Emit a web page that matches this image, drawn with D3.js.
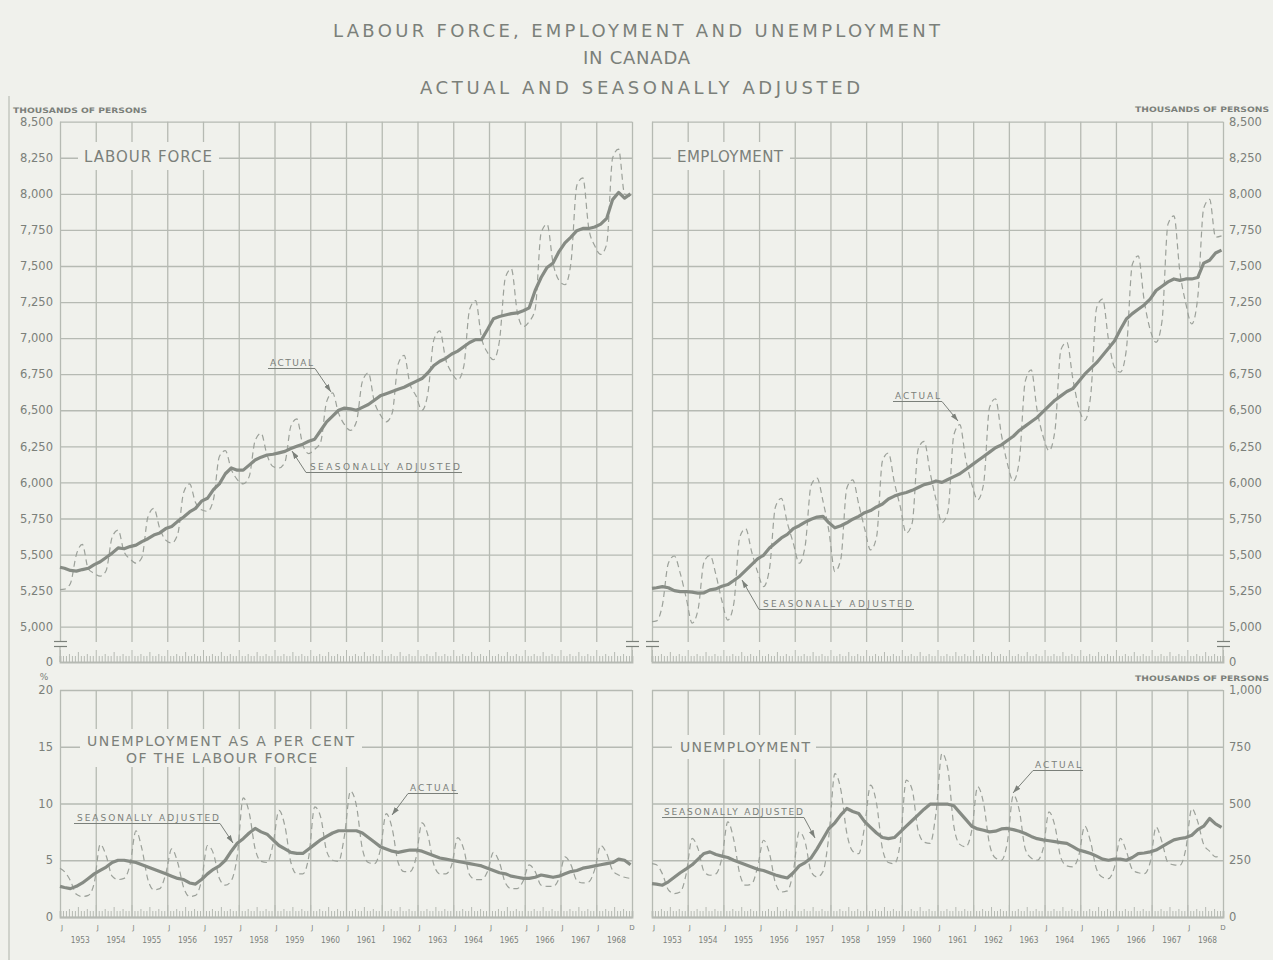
<!DOCTYPE html>
<html><head><meta charset="utf-8">
<script src="https://cdn.jsdelivr.net/npm/d3@7"></script>
<style>
body{margin:0;background:#f0f1ec;}
svg{display:block;}
text{font-family:"DejaVu Sans",sans-serif;fill:#7b807a;}
</style></head><body>
<svg id="c" width="1273" height="960"></svg>
<script>
// ---------------- DATA ----------------
// Sample points: Jan 1953, then Feb, Apr, Jun, Aug, Oct, Dec of each year 1953-1968
const yearLabels = ["1953","1954","1955","1956","1957","1958","1959","1960","1961","1962","1963","1964","1965","1966","1967","1968"];
const thousandTicks = [5000,5250,5500,5750,6000,6250,6500,6750,7000,7250,7500,7750,8000,8250,8500];
const rateTicks = [0,5,10,15,20];
const unempTicks = [0,250,500,750,1000];

const lfActual = [5257,
 5260,5300,5500,5570,5400,5370,
 5350,5390,5620,5670,5520,5470,
 5440,5480,5760,5820,5680,5600,
 5580,5640,5930,5990,5860,5810,
 5800,5880,6180,6220,6090,6020,
 5990,6040,6290,6340,6190,6110,
 6100,6140,6390,6440,6260,6200,
 6230,6280,6560,6620,6480,6400,
 6360,6420,6700,6760,6560,6470,
 6420,6480,6820,6880,6680,6600,
 6500,6620,6990,7050,6850,6760,
 6710,6800,7200,7260,7000,6900,
 6850,6980,7420,7480,7180,7080,
 7115,7200,7730,7790,7520,7400,
 7370,7520,8060,8110,7760,7640,
 7580,7650,8250,8310,8000,7980];
const lfSA = [5412,
 5405,5390,5385,5396,5405,5430,
 5450,5480,5510,5546,5540,5555,
 5565,5590,5610,5635,5650,5680,
 5695,5730,5760,5795,5820,5870,
 5890,5950,5990,6060,6100,6085,
 6085,6120,6155,6175,6190,6195,
 6205,6215,6235,6250,6265,6285,
 6300,6360,6420,6460,6500,6515,
 6510,6500,6520,6540,6570,6600,
 6615,6630,6645,6660,6680,6700,
 6720,6760,6810,6840,6860,6890,
 6910,6940,6970,6990,6990,7060,
 7135,7150,7160,7170,7175,7190,
 7210,7330,7420,7490,7520,7600,
 7660,7700,7745,7760,7760,7770,
 7790,7830,7960,8010,7970,8000];
const empActual = [5035,
 5040,5150,5440,5490,5370,5200,
 5025,5120,5450,5495,5360,5180,
 5046,5160,5620,5680,5520,5380,
 5278,5400,5830,5890,5720,5580,
 5440,5560,5980,6030,5870,5660,
 5382,5470,5960,6018,5850,5680,
 5532,5620,6150,6204,6000,5830,
 5648,5720,6230,6285,6070,5880,
 5720,5800,6330,6400,6160,5990,
 5880,5990,6520,6580,6330,6130,
 6010,6150,6700,6780,6500,6320,
 6220,6360,6920,6971,6720,6520,
 6430,6600,7210,7271,6990,6800,
 6764,6920,7510,7570,7260,7060,
 6971,7120,7790,7847,7460,7240,
 7098,7280,7900,7962,7700,7709];
const empSA = [5266,
 5270,5278,5270,5250,5243,5243,
 5240,5232,5235,5255,5262,5280,
 5292,5320,5350,5390,5430,5470,
 5495,5545,5580,5615,5640,5680,
 5700,5725,5745,5760,5764,5720,
 5685,5700,5720,5745,5765,5790,
 5805,5830,5850,5885,5905,5920,
 5930,5945,5965,5985,5995,6010,
 6000,6020,6040,6060,6090,6120,
 6150,6180,6210,6240,6260,6290,
 6320,6360,6390,6420,6450,6490,
 6530,6570,6600,6630,6650,6700,
 6750,6790,6830,6880,6930,6980,
 7060,7133,7170,7200,7230,7270,
 7330,7360,7390,7410,7400,7410,
 7410,7420,7520,7540,7590,7610];
const rateActual = [4.3,
 4.0,3.2,2.0,1.8,1.9,3.0,
 6.4,5.4,3.6,3.3,3.4,4.6,
 7.6,6.0,3.3,2.4,2.5,3.8,
 6.0,4.8,2.6,1.8,1.9,3.2,
 6.3,5.6,3.4,2.8,3.2,5.4,
 10.5,9.2,6.0,4.9,4.8,6.4,
 9.4,8.0,4.8,3.8,3.8,5.3,
 9.7,8.8,5.8,5.0,4.9,7.2,
 11.1,9.8,6.0,4.8,4.7,5.9,
 9.1,7.8,4.8,4.0,4.0,5.2,
 8.3,7.2,4.6,3.8,3.8,4.6,
 7.0,6.0,3.7,3.3,3.3,4.0,
 5.7,4.8,3.0,2.5,2.5,3.2,
 4.6,4.0,2.8,2.7,2.7,3.4,
 5.3,4.6,3.2,3.0,3.1,4.2,
 6.3,5.6,4.1,3.7,3.5,3.4];
const rateSA = [2.7,
 2.6,2.5,2.7,3.0,3.4,3.8,
 4.1,4.4,4.8,5.0,5.0,4.9,
 4.8,4.6,4.4,4.2,4.0,3.8,
 3.6,3.4,3.3,3.0,2.9,3.3,
 3.8,4.2,4.5,5.0,5.8,6.5,
 6.9,7.4,7.8,7.5,7.3,6.8,
 6.3,6.0,5.7,5.6,5.6,6.0,
 6.4,6.8,7.1,7.4,7.6,7.6,
 7.6,7.6,7.4,7.0,6.6,6.2,
 6.0,5.8,5.7,5.8,5.9,5.9,
 5.8,5.6,5.4,5.2,5.1,5.0,
 4.9,4.8,4.7,4.6,4.5,4.3,
 4.1,3.9,3.8,3.6,3.5,3.4,
 3.4,3.5,3.7,3.6,3.5,3.6,
 3.8,4.0,4.1,4.3,4.4,4.5,
 4.6,4.7,4.8,5.1,5.0,4.6];
const unempActual = [235,
 230,190,120,103,110,190,
 346,300,200,184,190,260,
 419,340,190,140,145,220,
 338,280,150,110,115,200,
 375,330,200,176,200,360,
 632,560,370,290,279,400,
 581,500,300,240,235,330,
 603,560,380,330,324,460,
 721,650,400,320,309,380,
 574,500,320,260,250,330,
 537,470,300,260,250,300,
 463,400,260,225,221,270,
 400,330,210,175,169,220,
 346,290,210,195,191,240,
 397,330,240,230,228,300,
 478,420,320,290,265,270];
const unempSA = [147,
 145,140,155,175,195,212,
 230,255,280,287,275,268,
 262,250,240,230,220,210,
 205,195,185,178,172,195,
 225,240,260,300,345,390,
 415,450,478,465,456,420,
 395,370,350,345,350,375,
 400,425,450,475,497,497,
 497,497,490,460,430,400,
 388,382,375,378,388,390,
 385,378,368,355,345,340,
 336,332,328,324,310,295,
 288,280,268,255,250,255,
 255,250,262,279,282,287,
 295,310,325,340,346,350,
 360,385,400,434,410,395];

// ---------------- DRAWING ----------------
const W = 1273, H = 960;
const BG = "#f0f1ec", GRID = "#b6bab3", INK = "#7b807a", LINE = "#868b84", DASH = "#9ca19a";
const svg = d3.select("#c");
svg.append("rect").attr("width", W).attr("height", H).attr("fill", BG);

const defs = svg.append("defs");
defs.append("marker").attr("id", "arr").attr("viewBox", "0 -3 8 6").attr("refX", 8).attr("refY", 0)
  .attr("markerWidth", 8).attr("markerHeight", 6).attr("markerUnits", "userSpaceOnUse").attr("orient", "auto")
  .append("path").attr("d", "M0,-2.6L8,0L0,2.6Z").attr("fill", INK);

// scan edge
svg.append("line").attr("x1", 9).attr("x2", 9).attr("y1", 96).attr("y2", 960).attr("stroke", "#c4c7c0").attr("stroke-width", 1.5);

// month index of sample i
const monthOf = i => i === 0 ? 0 : 2 * i - 1 + 0.5;

const panels = [
  { name: "lf", x0: 60, x1: 632, yTop: 121.7, yBot: 626.7, domain: [5000, 8500], ticks: thousandTicks,
    fmt: d3.format(","), side: "left", broken: true, base: 662, act: lfActual, sa: lfSA },
  { name: "emp", x0: 652, x1: 1223, yTop: 121.7, yBot: 626.7, domain: [5000, 8500], ticks: thousandTicks,
    fmt: d3.format(","), side: "right", broken: true, base: 662, act: empActual, sa: empSA },
  { name: "rate", x0: 60, x1: 632, yTop: 690, yBot: 917, domain: [0, 20], ticks: rateTicks,
    fmt: d3.format("d"), side: "left", broken: false, base: 917, act: rateActual, sa: rateSA },
  { name: "unemp", x0: 652, x1: 1223, yTop: 690, yBot: 917, domain: [0, 1000], ticks: unempTicks,
    fmt: d3.format(","), side: "right", broken: false, base: 917, act: unempActual, sa: unempSA }
];

panels.forEach(p => {
  p.x = d3.scaleLinear().domain([0, 192]).range([p.x0, p.x1]);
  p.y = d3.scaleLinear().domain(p.domain).range([p.yBot, p.yTop]);
  const g = svg.append("g");
  const vEnd = p.broken ? 642 : p.base;
  const ga = g.append("g").attr("transform", `translate(${p.x0},0)`)
    .call(d3.axisRight(p.y).tickValues(p.ticks).tickSize(p.x1 - p.x0).tickFormat(""));
  ga.select(".domain").remove();
  ga.selectAll("line").attr("stroke", GRID).attr("stroke-width", 1.3);
  const gv = g.append("g").attr("transform", `translate(0,${p.yTop})`)
    .call(d3.axisBottom(p.x).tickValues(d3.range(0, 193, 12)).tickSize(vEnd - p.yTop).tickFormat(""));
  gv.select(".domain").remove();
  gv.selectAll("line").attr("stroke", GRID).attr("stroke-width", 1.3);
  const gr = g.append("g").attr("transform", `translate(0,${p.base})`)
    .call(d3.axisTop(p.x).tickValues(d3.range(0, 193)).tickSize(6).tickFormat(""));
  gr.select(".domain").attr("stroke", GRID).attr("stroke-width", 1.8);
  gr.selectAll(".tick line").attr("stroke", GRID).attr("stroke-width", 1)
    .attr("y2", d => d % 12 === 0 ? -12 : (d % 6 === 0 ? -10 : (d % 3 === 0 ? -8 : -6)));
  if (p.broken) {
    [p.x0, p.x1].forEach(xx => {
      g.append("line").attr("x1", xx).attr("x2", xx).attr("y1", 647).attr("y2", p.base).attr("stroke", GRID).attr("stroke-width", 1.3);
      [641.5, 646.5].forEach(yy => g.append("line").attr("x1", xx - 6).attr("x2", xx + 7).attr("y1", yy).attr("y2", yy)
        .attr("stroke", INK).attr("stroke-width", 1.2));
    });
  }
  const axisGen = p.side === "left" ? d3.axisLeft(p.y) : d3.axisRight(p.y);
  const tl = g.append("g").attr("transform", `translate(${p.side === "left" ? p.x0 : p.x1},0)`)
    .call(axisGen.tickValues(p.ticks).tickSize(0).tickPadding(p.side === "left" ? 7 : 6).tickFormat(p.fmt));
  tl.select(".domain").remove();
  tl.selectAll("text").attr("font-size", 11.5).attr("fill", INK).style("font-family", "DejaVu Sans");
  if (p.broken) {
    g.append("text").attr("x", p.side === "left" ? p.x0 - 7 : p.x1 + 6).attr("y", p.base + 4)
      .attr("text-anchor", p.side === "left" ? "end" : "start").attr("font-size", 11.5).text("0");
  }
});

function boxLabel(lines, x, y0, lh, size, lens, box) {
  svg.append("rect").attr("x", box[0]).attr("y", box[1]).attr("width", box[2]).attr("height", box[3]).attr("fill", BG);
  lines.forEach((t, i) => svg.append("text").attr("x", x[i]).attr("y", y0 + i * lh).attr("font-size", size)
    .attr("textLength", lens[i]).attr("lengthAdjust", "spacing").text(t));
}
boxLabel(["LABOUR FORCE"], [84], 162, 0, 15, [128], [78, 142, 141, 28]);
boxLabel(["EMPLOYMENT"], [677], 162, 0, 15, [106], [671, 142, 119, 28]);
boxLabel(["UNEMPLOYMENT AS A PER CENT", "OF THE LABOUR FORCE"], [87, 126], 746, 17, 14, [267, 191], [80, 729, 282, 38]);
boxLabel(["UNEMPLOYMENT"], [680], 752, 0, 14, [130], [672, 735, 144, 24]);

panels.forEach(p => {
  const lineA = d3.line().x((d, i) => p.x(monthOf(i))).y(d => p.y(d)).curve(d3.curveMonotoneX);
  const lineS = d3.line().x((d, i) => p.x(monthOf(i))).y(d => p.y(d));
  svg.append("path").attr("d", lineA(p.act)).attr("fill", "none").attr("stroke", DASH)
    .attr("stroke-width", 1.2).attr("stroke-dasharray", "6,4");
  svg.append("path").attr("d", lineS(p.sa)).attr("fill", "none").attr("stroke", LINE)
    .attr("stroke-width", 3.2).attr("stroke-linejoin", "round");
});

function note(t, x, yb, len, ux0, ux1, lx, ly) {
  svg.append("text").attr("x", x).attr("y", yb).attr("font-size", 9).attr("textLength", len)
    .attr("lengthAdjust", "spacing").text(t);
  const uy = yb + 2.5;
  const from = Math.abs(lx - ux0) < Math.abs(lx - ux1) ? ux0 : ux1;
  svg.append("path").attr("d", `M${ux0},${uy}L${ux1},${uy}`)
    .attr("fill", "none").attr("stroke", INK).attr("stroke-width", 1);
  svg.append("line").attr("x1", from).attr("y1", uy).attr("x2", lx).attr("y2", ly)
    .attr("stroke", INK).attr("stroke-width", 1).attr("marker-end", "url(#arr)");
}
note("ACTUAL", 270, 366, 43, 268, 315, 331, 392);
note("SEASONALLY ADJUSTED", 310, 470, 150, 306, 462, 292, 451);
note("ACTUAL", 895, 399, 45, 893, 942, 958, 421);
note("SEASONALLY ADJUSTED", 763, 607, 149, 759, 914, 742, 580);
note("SEASONALLY ADJUSTED", 77, 821, 142, 74, 220, 233, 843);
note("ACTUAL", 410, 791, 46, 408, 458, 392, 815);
note("SEASONALLY ADJUSTED", 664, 815, 139, 662, 804, 815, 838);
note("ACTUAL", 1035, 768, 46, 1033, 1083, 1013, 793);

[["THOUSANDS OF PERSONS", 13, 113], ["THOUSANDS OF PERSONS", 1135, 112], ["THOUSANDS OF PERSONS", 1135, 681]]
  .forEach(d => svg.append("text").attr("x", d[1]).attr("y", d[2]).attr("font-size", 7.5).attr("font-weight", "bold")
    .attr("textLength", 134).attr("lengthAdjust", "spacingAndGlyphs").text(d[0]));
svg.append("text").attr("x", 44).attr("y", 680).attr("font-size", 9).attr("text-anchor", "middle").text("%");

[panels[2], panels[3]].forEach(p => {
  yearLabels.forEach((yl, k) => {
    const xs = p.x(k * 12);
    svg.append("text").attr("x", xs + 2).attr("y", 930).attr("font-size", 7).attr("text-anchor", "middle").text("J");
    svg.append("text").attr("x", p.x(k * 12 + 6.8)).attr("y", 943).attr("font-size", 9.5)
      .attr("text-anchor", "middle").attr("textLength", 19).attr("lengthAdjust", "spacingAndGlyphs").text(yl);
  });
  svg.append("text").attr("x", p.x(192)).attr("y", 930).attr("font-size", 7).attr("text-anchor", "middle").text("D");
});

[["LABOUR FORCE, EMPLOYMENT AND UNEMPLOYMENT", 333, 37, 607],
 ["IN CANADA", 583, 64, 107],
 ["ACTUAL AND SEASONALLY ADJUSTED", 420, 94, 440]].forEach(d =>
  svg.append("text").attr("x", d[1]).attr("y", d[2]).attr("font-size", 18).attr("fill", "#767b75")
    .attr("textLength", d[3]).attr("lengthAdjust", "spacing").text(d[0]));
</script>
</body></html>
